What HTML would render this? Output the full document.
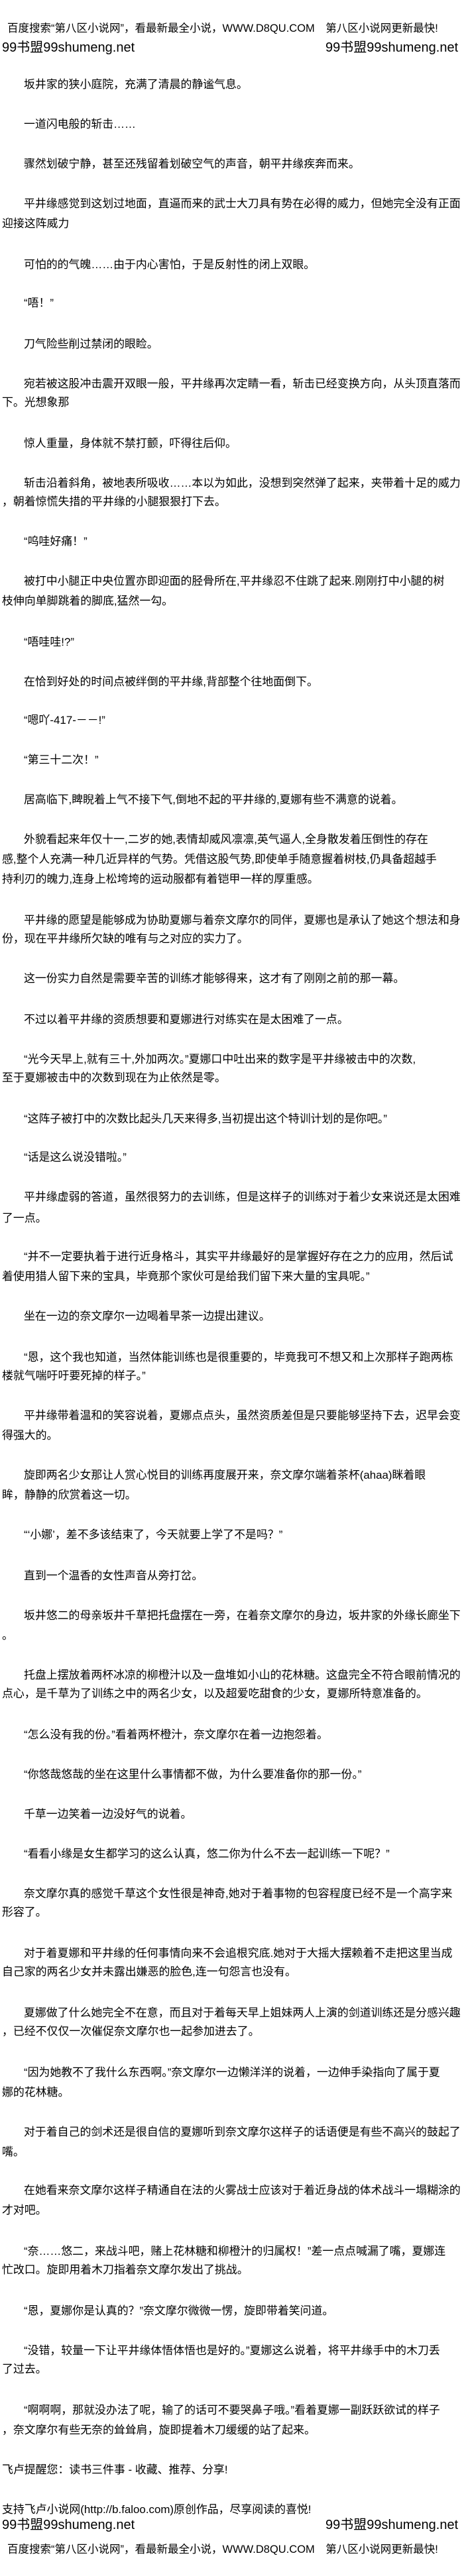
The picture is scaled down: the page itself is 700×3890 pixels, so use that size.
<!DOCTYPE html>
<html><head><meta charset="utf-8">
<style>
html,body{margin:0;padding:0;background:#fff;}
body{width:700px;height:3890px;position:relative;overflow:hidden;color:#000;
font-family:"Liberation Sans","Noto Sans CJK SC",sans-serif;font-size:16.9px;}
.l{position:absolute;white-space:nowrap;line-height:20px;height:20px;}
.i{left:36px;}
.w{left:3px;}
.h{left:11px;font-size:16.5px;}
.b{font-size:20px;line-height:24px;height:24px;}
</style></head><body>
<div class="l h" style="top:33px">百度搜索“第八区小说网”，看最新最全小说，WWW.D8QU.COM　第八区小说网更新最快!</div>
<div class="l b" style="top:60px;left:3px">99书盟99shumeng.net</div>
<div class="l b" style="top:60px;left:491px">99书盟99shumeng.net</div>
<div class="l i" style="top:118px">坂井家的狭小庭院，充满了清晨的静谧气息。</div>
<div class="l i" style="top:178px">一道闪电般的斩击……</div>
<div class="l i" style="top:238px">骤然划破宁静，甚至还残留着划破空气的声音，朝平井缘疾奔而来。</div>
<div class="l i" style="top:298px">平井缘感觉到这划过地面，直逼而来的武士大刀具有势在必得的威力，但她完全没有正面</div>
<div class="l w" style="top:328px">迎接这阵威力</div>
<div class="l i" style="top:390px">可怕的的气魄……由于内心害怕，于是反射性的闭上双眼。</div>
<div class="l i" style="top:448px">“唔！”</div>
<div class="l i" style="top:510px">刀气险些削过禁闭的眼睑。</div>
<div class="l i" style="top:570px">宛若被这股冲击震开双眼一般，平井缘再次定睛一看，斩击已经变换方向，从头顶直落而</div>
<div class="l w" style="top:598px">下。光想象那</div>
<div class="l i" style="top:660px">惊人重量，身体就不禁打颤，吓得往后仰。</div>
<div class="l i" style="top:720px">斩击沿着斜角，被地表所吸收……本以为如此，没想到突然弹了起来，夹带着十足的威力</div>
<div class="l w" style="top:748px">，朝着惊慌失措的平井缘的小腿狠狠打下去。</div>
<div class="l i" style="top:808px">“呜哇好痛！”</div>
<div class="l i" style="top:868px">被打中小腿正中央位置亦即迎面的胫骨所在,平井缘忍不住跳了起来.刚刚打中小腿的树</div>
<div class="l w" style="top:898px">枝伸向单脚跳着的脚底,猛然一勾。</div>
<div class="l i" style="top:960px">“唔哇哇!?”</div>
<div class="l i" style="top:1020px">在恰到好处的时间点被绊倒的平井缘,背部整个往地面倒下。</div>
<div class="l i" style="top:1078px">“嗯吖-417-－－!”</div>
<div class="l i" style="top:1138px">“第三十二次！”</div>
<div class="l i" style="top:1198px">居高临下,睥睨着上气不接下气,倒地不起的平井缘的,夏娜有些不满意的说着。</div>
<div class="l i" style="top:1258px">外貌看起来年仅十一,二岁的她,表情却威风凛凛,英气逼人,全身散发着压倒性的存在</div>
<div class="l w" style="top:1288px">感,整个人充满一种几近异样的气势。凭借这股气势,即使单手随意握着树枝,仍具备超越手</div>
<div class="l w" style="top:1318px">持利刃的魄力,连身上松垮垮的运动服都有着铠甲一样的厚重感。</div>
<div class="l i" style="top:1380px">平井缘的愿望是能够成为协助夏娜与着奈文摩尔的同伴，夏娜也是承认了她这个想法和身</div>
<div class="l w" style="top:1408px">份，现在平井缘所欠缺的唯有与之对应的实力了。</div>
<div class="l i" style="top:1468px">这一份实力自然是需要辛苦的训练才能够得来，这才有了刚刚之前的那一幕。</div>
<div class="l i" style="top:1530px">不过以着平井缘的资质想要和夏娜进行对练实在是太困难了一点。</div>
<div class="l i" style="top:1590px">“光今天早上,就有三十,外加两次。”夏娜口中吐出来的数字是平井缘被击中的次数,</div>
<div class="l w" style="top:1618px">至于夏娜被击中的次数到现在为止依然是零。</div>
<div class="l i" style="top:1680px">“这阵子被打中的次数比起头几天来得多,当初提出这个特训计划的是你吧。”</div>
<div class="l i" style="top:1738px">“话是这么说没错啦。”</div>
<div class="l i" style="top:1798px">平井缘虚弱的答道，虽然很努力的去训练，但是这样子的训练对于着少女来说还是太困难</div>
<div class="l w" style="top:1830px">了一点。</div>
<div class="l i" style="top:1888px">“并不一定要执着于进行近身格斗，其实平井缘最好的是掌握好存在之力的应用，然后试</div>
<div class="l w" style="top:1918px">着使用猎人留下来的宝具，毕竟那个家伙可是给我们留下来大量的宝具呢。”</div>
<div class="l i" style="top:1978px">坐在一边的奈文摩尔一边喝着早茶一边提出建议。</div>
<div class="l i" style="top:2040px">“恩，这个我也知道，当然体能训练也是很重要的，毕竟我可不想又和上次那样子跑两栋</div>
<div class="l w" style="top:2068px">楼就气喘吁吁要死掉的样子。”</div>
<div class="l i" style="top:2128px">平井缘带着温和的笑容说着，夏娜点点头，虽然资质差但是只要能够坚持下去，迟早会变</div>
<div class="l w" style="top:2158px">得强大的。</div>
<div class="l i" style="top:2218px">旋即两名少女那让人赏心悦目的训练再度展开来，奈文摩尔端着茶杯(ahaa)眯着眼</div>
<div class="l w" style="top:2248px">眸，静静的欣赏着这一切。</div>
<div class="l i" style="top:2308px">“‘小娜’，差不多该结束了，今天就要上学了不是吗？”</div>
<div class="l i" style="top:2370px">直到一个温香的女性声音从旁打岔。</div>
<div class="l i" style="top:2430px">坂井悠二的母亲坂井千草把托盘摆在一旁，在着奈文摩尔的身边，坂井家的外缘长廊坐下</div>
<div class="l w" style="top:2460px">。</div>
<div class="l i" style="top:2520px">托盘上摆放着两杯冰凉的柳橙汁以及一盘堆如小山的花林糖。这盘完全不符合眼前情况的</div>
<div class="l w" style="top:2548px">点心，是千草为了训练之中的两名少女，以及超爱吃甜食的少女，夏娜所特意准备的。</div>
<div class="l i" style="top:2610px">“怎么没有我的份。”看着两杯橙汁，奈文摩尔在着一边抱怨着。</div>
<div class="l i" style="top:2670px">“你悠哉悠哉的坐在这里什么事情都不做，为什么要准备你的那一份。”</div>
<div class="l i" style="top:2730px">千草一边笑着一边没好气的说着。</div>
<div class="l i" style="top:2790px">“看看小缘是女生都学习的这么认真，悠二你为什么不去一起训练一下呢？”</div>
<div class="l i" style="top:2850px">奈文摩尔真的感觉千草这个女性很是神奇,她对于着事物的包容程度已经不是一个高字来</div>
<div class="l w" style="top:2878px">形容了。</div>
<div class="l i" style="top:2940px">对于着夏娜和平井缘的任何事情向来不会追根究底.她对于大摇大摆赖着不走把这里当成</div>
<div class="l w" style="top:2968px">自己家的两名少女并未露出嫌恶的脸色,连一句怨言也没有。</div>
<div class="l i" style="top:3030px">夏娜做了什么她完全不在意，而且对于着每天早上姐妹两人上演的剑道训练还是分感兴趣</div>
<div class="l w" style="top:3058px">，已经不仅仅一次催促奈文摩尔也一起参加进去了。</div>
<div class="l i" style="top:3120px">“因为她教不了我什么东西啊。”奈文摩尔一边懒洋洋的说着，一边伸手染指向了属于夏</div>
<div class="l w" style="top:3150px">娜的花林糖。</div>
<div class="l i" style="top:3210px">对于着自己的剑术还是很自信的夏娜听到奈文摩尔这样子的话语便是有些不高兴的鼓起了</div>
<div class="l w" style="top:3240px">嘴。</div>
<div class="l i" style="top:3298px">在她看来奈文摩尔这样子精通自在法的火雾战士应该对于着近身战的体术战斗一塌糊涂的</div>
<div class="l w" style="top:3328px">才对吧。</div>
<div class="l i" style="top:3390px">“奈……悠二，来战斗吧，赌上花林糖和柳橙汁的归属权！”差一点点喊漏了嘴，夏娜连</div>
<div class="l w" style="top:3418px">忙改口。旋即用着木刀指着奈文摩尔发出了挑战。</div>
<div class="l i" style="top:3480px">“恩，夏娜你是认真的？”奈文摩尔微微一愣，旋即带着笑问道。</div>
<div class="l i" style="top:3540px">“没错，较量一下让平井缘体悟体悟也是好的。”夏娜这么说着，将平井缘手中的木刀丢</div>
<div class="l w" style="top:3568px">了过去。</div>
<div class="l i" style="top:3630px">“啊啊啊，那就没办法了呢，输了的话可不要哭鼻子哦。”看着夏娜一副跃跃欲试的样子</div>
<div class="l w" style="top:3660px">，奈文摩尔有些无奈的耸耸肩，旋即提着木刀缓缓的站了起来。</div>
<div class="l w" style="top:3720px">飞卢提醒您：读书三件事 - 收藏、推荐、分享!</div>
<div class="l w" style="top:3780px">支持飞卢小说网(http://b.faloo.com)原创作品，尽享阅读的喜悦!</div>
<div class="l b" style="top:3801px;left:3px">99书盟99shumeng.net</div>
<div class="l b" style="top:3801px;left:491px">99书盟99shumeng.net</div>
<div class="l h" style="top:3840px">百度搜索“第八区小说网”，看最新最全小说，WWW.D8QU.COM　第八区小说网更新最快!</div>
</body></html>
